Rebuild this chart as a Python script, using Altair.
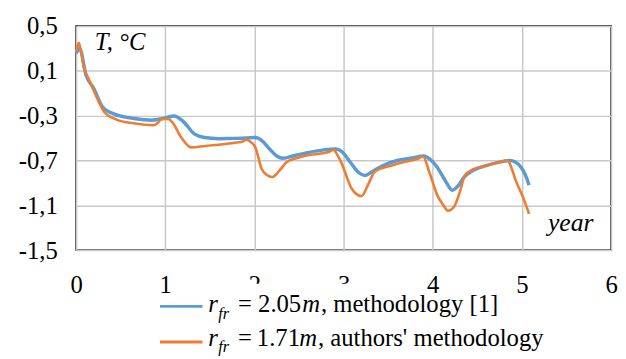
import altair as alt
import pandas as pd

# ---- data ----
blue_year = [0.00, 0.04, 0.11, 0.20, 0.29, 0.38, 0.48, 0.65, 0.85, 0.99, 1.10, 1.20, 1.33, 1.44,
             1.60, 1.73, 1.90, 2.01, 2.08, 2.17, 2.25, 2.32, 2.45, 2.61, 2.78, 2.91, 2.98, 3.08,
             3.16, 3.24, 3.32, 3.42, 3.60, 3.75, 3.90, 3.97, 4.05, 4.14, 4.22, 4.28, 4.35, 4.45,
             4.60, 4.75, 4.86, 4.93, 4.99, 5.04, 5.08]
blue_T = [0.256, 0.30, 0.065, -0.06, -0.215, -0.27, -0.30, -0.325, -0.34, -0.323, -0.303, -0.35,
          -0.465, -0.495, -0.505, -0.503, -0.50, -0.495, -0.52, -0.597, -0.66, -0.68, -0.655,
          -0.627, -0.605, -0.597, -0.62, -0.72, -0.80, -0.833, -0.80, -0.753, -0.70, -0.68,
          -0.66, -0.69, -0.76, -0.88, -0.965, -0.93, -0.85, -0.79, -0.745, -0.715, -0.70,
          -0.715, -0.76, -0.83, -0.92]

orange_year = [0.00, 0.03, 0.06, 0.09, 0.14, 0.20, 0.31, 0.44, 0.66, 0.87, 0.92, 0.96, 1.03, 1.08,
               1.18, 1.29, 1.45, 1.65, 1.80, 1.87, 1.91, 1.96, 2.01, 2.08, 2.14, 2.20, 2.27, 2.36,
               2.47, 2.58, 2.82, 2.89, 2.93, 2.98, 3.09, 3.20, 3.28, 3.35, 3.54, 3.70, 3.83, 3.89,
               3.96, 4.05, 4.12, 4.17, 4.24, 4.31, 4.36, 4.45, 4.60, 4.72, 4.84, 4.88, 4.93, 5.01,
               5.08]
orange_T = [0.27, 0.35, 0.25, 0.123, 0.03, -0.08, -0.26, -0.33, -0.37, -0.385, -0.36, -0.33, -0.33,
            -0.36, -0.495, -0.583, -0.57, -0.555, -0.54, -0.53, -0.515, -0.535, -0.583, -0.773,
            -0.83, -0.848, -0.80, -0.715, -0.68, -0.656, -0.627, -0.606, -0.65, -0.73, -0.95,
            -1.018, -0.906, -0.80, -0.745, -0.71, -0.685, -0.665, -0.80, -1.009, -1.10, -1.148,
            -1.11, -0.965, -0.833, -0.78, -0.745, -0.72, -0.70, -0.76, -0.877, -1.024, -1.177]

series_names = ["r_fr = 2.05m, methodology [1]", "r_fr = 1.71m, authors' methodology"]
series_colors = ["#5b9bd5", "#ed7d31"]
series_widths = [3.5, 2.6]
x_ticks = [0, 1, 2, 3, 4, 5, 6]
y_ticks = [-1.5, -1.1, -0.7, -0.3, 0.1, 0.5]

df = pd.concat([
    pd.DataFrame({"year": blue_year, "T": blue_T, "series": series_names[0], "order": 1}),
    pd.DataFrame({"year": orange_year, "T": orange_T, "series": series_names[1], "order": 0}),
])

FONT = "Liberation Serif"
FS = 25
W, H = 542, 227

x_enc = alt.X("year:Q", scale=alt.Scale(domain=[0, 6], nice=False),
              axis=alt.Axis(values=x_ticks, title=None, labelFontSize=FS, labelFont=FONT,
                            labelColor="black", labelPadding=23, ticks=False, domain=False,
                            grid=True, gridColor="#c8c8c8", gridWidth=1.5, labelFlush=False))
y_enc = alt.Y("T:Q", scale=alt.Scale(domain=[-1.5, 0.5], nice=False, zero=False),
              axis=alt.Axis(values=y_ticks, title=None, labelFontSize=FS, labelFont=FONT,
                            labelColor="black", labelPadding=19, ticks=False, domain=False,
                            grid=True, gridColor="#c8c8c8", gridWidth=1.5,
                            labelExpr="(datum.value < 0 ? '-' : '') + replace(format(abs(datum.value), '.1f'), '.', ',')"))

lines = alt.Chart(df).mark_line(interpolate="monotone").encode(
    x=x_enc, y=y_enc,
    color=alt.Color("series:N", scale=alt.Scale(domain=series_names, range=series_colors), legend=None),
    strokeWidth=alt.StrokeWidth("series:N", scale=alt.Scale(domain=series_names, range=series_widths), legend=None),
    detail="series:N",
    order=alt.Order("order:Q"),
)

one = pd.DataFrame({"d": [0]})


def txt(s, x, y, size=FS, italic=False):
    return alt.Chart(one).mark_text(
        font=FONT, fontSize=size, fontStyle="italic" if italic else "normal",
        align="left", baseline="alphabetic", color="black"
    ).encode(x=alt.value(x), y=alt.value(y), text=alt.value(s))


def swatch(color, y):
    return alt.Chart(one).mark_rule(color=color, strokeWidth=3).encode(
        x=alt.value(85), x2=alt.value(128), y=alt.value(y))


# white legend box that hides the lower part of some x tick labels, as in the reference
legend_box = alt.Chart(one).mark_rect(color="white").encode(
    x=alt.value(113), x2=alt.value(323), y=alt.value(261), y2=alt.value(276))

layers = [
    lines,
    legend_box,
    txt("T, °C", 19, 24, italic=True),
    txt("year", 478, 208, size=26, italic=True),
    swatch(series_colors[0], 284),
    swatch(series_colors[1], 320),
    # legend line 1
    txt("r", 134, 290, italic=True),
    txt("fr", 144, 297, size=16.5, italic=True),
    txt("= 2.05", 164, 290),
    txt("m", 229, 290, italic=True),
    txt(", methodology [1]", 248, 290),
    # legend line 2
    txt("r", 134, 324, italic=True),
    txt("fr", 144, 330, size=16.5, italic=True),
    txt("=\u20091.71", 164, 324),
    txt("m", 226, 324, italic=True),
    txt(", authors' methodology", 245, 324),
]

chart = alt.layer(*layers).properties(
    width=W, height=H,
    autosize=alt.AutoSizeParams(type="none"),
    padding={"left": 69, "top": 16, "right": 7, "bottom": 108},
).configure(background="white", font=FONT).configure_view(stroke="black", strokeWidth=1.5)

chart.save("out.html", embed_options={"renderer": "svg", "actions": False})
